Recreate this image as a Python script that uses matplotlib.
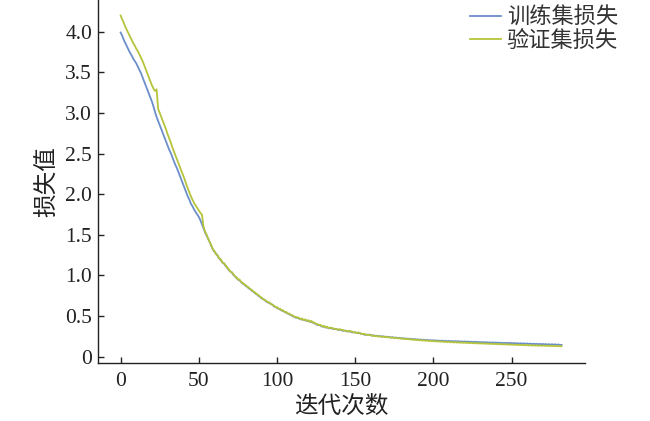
import matplotlib
matplotlib.use("Agg")
import matplotlib.pyplot as plt

plt.rcParams['font.family'] = ['Liberation Serif', 'Noto Sans CJK SC']

# loss values, one per iteration (0..282)
train_loss = [
    3.99, 3.95, 3.90, 3.86, 3.82, 3.78, 3.74, 3.71, 3.67, 3.64,
    3.61, 3.57, 3.53, 3.49, 3.44, 3.39, 3.34, 3.29, 3.24, 3.19,
    3.14, 3.08, 3.01, 2.95, 2.90, 2.85, 2.80, 2.75, 2.70, 2.65,
    2.60, 2.55, 2.51, 2.46, 2.41, 2.36, 2.32, 2.27, 2.22, 2.17,
    2.12, 2.07, 2.02, 1.97, 1.93, 1.88, 1.85, 1.81, 1.78, 1.75,
    1.72, 1.68, 1.63, 1.58, 1.53, 1.49, 1.45, 1.41, 1.36, 1.32,
    1.29, 1.27, 1.24, 1.21, 1.19, 1.16, 1.15, 1.12, 1.10, 1.07,
    1.05, 1.04, 1.01, 0.99, 0.97, 0.95, 0.94, 0.92, 0.90, 0.89,
    0.87, 0.86, 0.84, 0.83, 0.81, 0.80, 0.78, 0.77, 0.75, 0.74,
    0.72, 0.71, 0.70, 0.68, 0.67, 0.66, 0.65, 0.64, 0.62, 0.61,
    0.60, 0.59, 0.58, 0.57, 0.56, 0.55, 0.54, 0.53, 0.52, 0.51,
    0.50, 0.49, 0.48, 0.48, 0.47, 0.46, 0.46, 0.45, 0.45, 0.44,
    0.44, 0.43, 0.43, 0.42, 0.41, 0.40, 0.39, 0.39, 0.38, 0.37,
    0.37, 0.36, 0.36, 0.35, 0.35, 0.35, 0.34, 0.34, 0.34, 0.33,
    0.33, 0.33, 0.32, 0.32, 0.32, 0.31, 0.31, 0.31, 0.30, 0.30,
    0.30, 0.29, 0.29, 0.29, 0.28, 0.28, 0.27, 0.27, 0.27, 0.27,
    0.268, 0.259, 0.263, 0.255, 0.258, 0.251, 0.254, 0.247, 0.251, 0.243,
    0.247, 0.240, 0.243, 0.236, 0.240, 0.232, 0.236, 0.229, 0.233, 0.226,
    0.229, 0.222, 0.226, 0.219, 0.223, 0.216, 0.220, 0.213, 0.217, 0.210,
    0.214, 0.207, 0.212, 0.205, 0.209, 0.202, 0.207, 0.200, 0.205, 0.198,
    0.203, 0.196, 0.201, 0.194, 0.199, 0.193, 0.198, 0.191, 0.196, 0.190,
    0.195, 0.188, 0.193, 0.187, 0.192, 0.186, 0.191, 0.184, 0.189, 0.183,
    0.188, 0.182, 0.187, 0.180, 0.185, 0.179, 0.184, 0.178, 0.183, 0.176,
    0.181, 0.175, 0.180, 0.174, 0.179, 0.172, 0.177, 0.171, 0.176, 0.170,
    0.175, 0.169, 0.174, 0.167, 0.172, 0.166, 0.171, 0.165, 0.170, 0.164,
    0.169, 0.163, 0.168, 0.162, 0.166, 0.160, 0.165, 0.159, 0.164, 0.158,
    0.163, 0.157, 0.161, 0.155, 0.160, 0.154, 0.159, 0.153, 0.158, 0.152,
    0.157, 0.151, 0.155, 0.149, 0.154, 0.148, 0.153, 0.147, 0.152, 0.146,
    0.150, 0.144, 0.145,
]

val_loss = [
    4.20, 4.15, 4.11, 4.06, 4.02, 3.98, 3.94, 3.90, 3.86, 3.83,
    3.79, 3.76, 3.72, 3.68, 3.64, 3.59, 3.54, 3.49, 3.44, 3.39,
    3.34, 3.30, 3.27, 3.29, 3.05, 3.00, 2.95, 2.90, 2.85, 2.80,
    2.74, 2.69, 2.64, 2.58, 2.53, 2.48, 2.43, 2.38, 2.33, 2.28,
    2.23, 2.18, 2.12, 2.07, 2.02, 1.97, 1.93, 1.89, 1.86, 1.83,
    1.80, 1.77, 1.75, 1.60, 1.54, 1.50, 1.45, 1.41, 1.37, 1.32,
    1.30, 1.26, 1.25, 1.21, 1.20, 1.16, 1.15, 1.13, 1.10, 1.08,
    1.05, 1.04, 1.02, 0.99, 0.98, 0.95, 0.95, 0.92, 0.91, 0.89,
    0.88, 0.86, 0.85, 0.83, 0.82, 0.80, 0.79, 0.77, 0.76, 0.74,
    0.73, 0.71, 0.70, 0.69, 0.67, 0.67, 0.65, 0.64, 0.63, 0.61,
    0.61, 0.59, 0.59, 0.57, 0.57, 0.55, 0.55, 0.53, 0.53, 0.51,
    0.51, 0.49, 0.49, 0.48, 0.48, 0.46, 0.47, 0.45, 0.46, 0.44,
    0.45, 0.43, 0.44, 0.42, 0.42, 0.40, 0.40, 0.39, 0.39, 0.37,
    0.38, 0.36, 0.37, 0.35, 0.36, 0.35, 0.35, 0.34, 0.34, 0.33,
    0.34, 0.33, 0.33, 0.32, 0.32, 0.31, 0.32, 0.31, 0.31, 0.30,
    0.30, 0.29, 0.30, 0.29, 0.28, 0.28, 0.28, 0.27, 0.27, 0.27,
    0.262, 0.258, 0.257, 0.252, 0.254, 0.248, 0.250, 0.244, 0.246, 0.240,
    0.243, 0.237, 0.239, 0.233, 0.235, 0.229, 0.232, 0.226, 0.228, 0.222,
    0.225, 0.219, 0.221, 0.215, 0.218, 0.212, 0.214, 0.208, 0.211, 0.205,
    0.208, 0.202, 0.205, 0.199, 0.202, 0.196, 0.199, 0.193, 0.196, 0.190,
    0.194, 0.188, 0.191, 0.186, 0.189, 0.184, 0.187, 0.181, 0.185, 0.179,
    0.183, 0.177, 0.181, 0.175, 0.179, 0.174, 0.177, 0.172, 0.176, 0.170,
    0.174, 0.169, 0.172, 0.167, 0.171, 0.165, 0.169, 0.164, 0.167, 0.162,
    0.166, 0.161, 0.164, 0.159, 0.163, 0.158, 0.161, 0.156, 0.160, 0.155,
    0.158, 0.153, 0.157, 0.152, 0.155, 0.150, 0.154, 0.149, 0.152, 0.147,
    0.151, 0.146, 0.149, 0.144, 0.148, 0.143, 0.146, 0.141, 0.145, 0.140,
    0.143, 0.139, 0.142, 0.137, 0.141, 0.136, 0.139, 0.135, 0.138, 0.134,
    0.137, 0.133, 0.136, 0.132, 0.135, 0.131, 0.134, 0.130, 0.133, 0.129,
    0.132, 0.128, 0.130,
]

iterations = list(range(len(train_loss)))
x_ticks = [0, 50, 100, 150, 200, 250]
y_ticks = [0, 0.5, 1.0, 1.5, 2.0, 2.5, 3.0, 3.5, 4.0]
y_tick_labels = ["0", "0.5", "1.0", "1.5", "2.0", "2.5", "3.0", "3.5", "4.0"]

fig = plt.figure(figsize=(6.5, 4.21), dpi=100)
ax = fig.add_axes([0.1512, 0.1385, 0.9 - 0.1512, 1 - 0.1385])

ax.plot(iterations, train_loss, color='#6b8fcb', lw=1.3, label='训练集损失')
ax.plot(iterations, val_loss, color='#b5c43a', lw=1.3, label='验证集损失')

ax.set_xlim(-14.3, 297)
ax.set_ylim(-0.074, 4.39)
ax.set_xticks(x_ticks)
ax.set_yticks(y_ticks)
ax.set_yticklabels(y_tick_labels)

ax.spines['top'].set_visible(False)
ax.spines['right'].set_visible(False)
for s in ['left', 'bottom']:
    ax.spines[s].set_linewidth(1.0)
    ax.spines[s].set_color('#222222')

ax.tick_params(direction='in', length=4, width=1.0, labelsize=15.5,
               colors='#222222')
ax.tick_params(axis='y', pad=4.5)
ax.tick_params(axis='x', pad=7)

ax.set_xlabel('迭代次数', fontsize=17, labelpad=3, color='#222222')
ax.set_ylabel('损失值', fontsize=17, labelpad=4, color='#222222')

leg = fig.legend(loc='upper left', bbox_to_anchor=(470 / 650, 1 - 8 / 421),
                 frameon=False, fontsize=16, borderpad=0, labelspacing=0.05,
                 handlelength=1.4, handletextpad=0.25, borderaxespad=0)
for t in leg.get_texts():
    t.set_color('#333333')

fig.savefig('out.png', dpi=100)
